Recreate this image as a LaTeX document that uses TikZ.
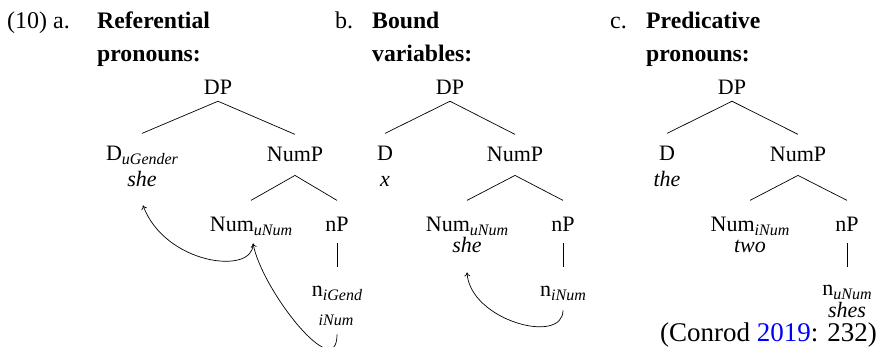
\documentclass[tikz,border=0pt]{standalone}
\usepackage{fontspec}
\setmainfont{Liberation Serif}
\usetikzlibrary{arrows.meta}
\newcommand{\subx}[1]{\raisebox{-4pt}{\fontsize{16}{16}\selectfont\itshape #1}}
\tikzset{
  lbl/.style={inner sep=0pt, anchor=base, font=\fontsize{22}{26}\selectfont},
  hd/.style={inner sep=0pt, anchor=base west, font=\fontsize{24}{28}\selectfont},
  hdb/.style={hd, font=\fontsize{23.7}{28}\selectfont\bfseries},
  wd/.style={lbl, font=\fontsize{22}{26}\selectfont\itshape},
  br/.style={line width=0.7pt},
  mv/.style={line width=0.7pt, -{To[length=4pt,width=6pt]}}
}
\begin{document}
\begin{tikzpicture}[x=1pt,y=-1pt]
\useasboundingbox (0,0) rectangle (878,347);
\clip (0,0) rectangle (878,347);
% headings
\node[hd] (ex) at (7,29) {(10)};
\node[hd] (la) at (53,29) {a.};
\node[hdb] (ta1) at (97,29) {Referential};
\node[hdb] (ta2) at (97,62) {pronouns:};
\node[hd] (lb) at (335,29) {b.};
\node[hdb] (tb1) at (372,29) {Bound};
\node[hdb] (tb2) at (372,62) {variables:};
\node[hd] (lc) at (610,29) {c.};
\node[hdb] (tc1) at (646,29) {Predicative};
\node[hdb] (tc2) at (646,62) {pronouns:};
% tree a
\node[lbl] (DPa) at (218,95) {DP};
\node[lbl] (Da) at (142,161) {D\subx{uGender}};
\node[wd] (wDa) at (142,187) {she};
\node[lbl] (NPa) at (295,162) {NumP};
\node[lbl] (Numa) at (251,232) {Num\subx{uNum}};
\node[lbl] (nPa) at (337,232) {nP};
\node[lbl] (na) at (337,297) {n\subx{iGend}};
\node[wd] (wna) at (336,325) {\fontsize{16}{16}\selectfont iNum};
\draw[br] ([yshift=-6pt]DPa.south) -- ([yshift=13pt]Da.north);
\draw[br] ([yshift=-6pt]DPa.south) -- ([yshift=13pt]NPa.north);
\draw[br] ([yshift=-13pt]NPa.south) -- ([yshift=17pt]Numa.north);
\draw[br] ([yshift=-13pt]NPa.south) -- ([yshift=17pt]nPa.north);
\draw[br] ([yshift=-11pt]nPa.south) -- ([yshift=19pt]na.north);
\draw[mv] ([shift={(2,8)}]Numa.south) .. controls +(0,31) and +(22,59) .. ([shift={(1,18)}]wDa.south);
\draw[mv] ([shift={(1,9)}]wna.south) .. controls +(0,51) and +(9,47) .. ([shift={(2,7)}]Numa.south);
% tree b
\node[lbl] (DPb) at (450,95) {DP};
\node[lbl] (Db) at (385,161) {D};
\node[wd] (wDb) at (385,187) {x};
\node[lbl] (NPb) at (515,162) {NumP};
\node[lbl] (Numb) at (467,232) {Num\subx{uNum}};
\node[wd] (wNumb) at (467,253) {she};
\node[lbl] (nPb) at (563,232) {nP};
\node[lbl] (nb) at (563,297) {n\subx{iNum}};
\draw[br] ([yshift=-6pt]DPb.south) -- ([yshift=13pt]Db.north);
\draw[br] ([yshift=-6pt]DPb.south) -- ([yshift=13pt]NPb.north);
\draw[br] ([yshift=-13pt]NPb.south) -- ([yshift=17pt]Numb.north);
\draw[br] ([yshift=-13pt]NPb.south) -- ([yshift=17pt]nPb.north);
\draw[br] ([yshift=-11pt]nPb.south) -- ([yshift=19pt]nb.north);
\draw[mv] ([shift={(0,9)}]nb.south) .. controls +(0,35) and +(3,48) .. ([shift={(0,19)}]wNumb.south);
% tree c
\node[lbl] (DPc) at (732,95) {DP};
\node[lbl] (Dc) at (667,161) {D};
\node[wd] (wDc) at (667,187) {the};
\node[lbl] (NPc) at (798,162) {NumP};
\node[lbl] (Numc) at (750,232) {Num\subx{iNum}};
\node[wd] (wNumc) at (750,253) {two};
\node[lbl] (nPc) at (847,232) {nP};
\node[lbl] (nc) at (847,296) {n\subx{uNum}};
\node[wd] (wnc) at (847,318) {shes};
\draw[br] ([yshift=-6pt]DPc.south) -- ([yshift=13pt]Dc.north);
\draw[br] ([yshift=-6pt]DPc.south) -- ([yshift=13pt]NPc.north);
\draw[br] ([yshift=-13pt]NPc.south) -- ([yshift=17pt]Numc.north);
\draw[br] ([yshift=-13pt]NPc.south) -- ([yshift=17pt]nPc.north);
\draw[br] ([yshift=-11pt]nPc.south) -- ([yshift=18pt]nc.north);
% citation
\node[lbl, anchor=base east, font=\fontsize{27}{30}\selectfont] (cite) at (877,341.5) {(Conrod \textcolor{blue}{2019}: 232)};
\end{tikzpicture}
\end{document}
